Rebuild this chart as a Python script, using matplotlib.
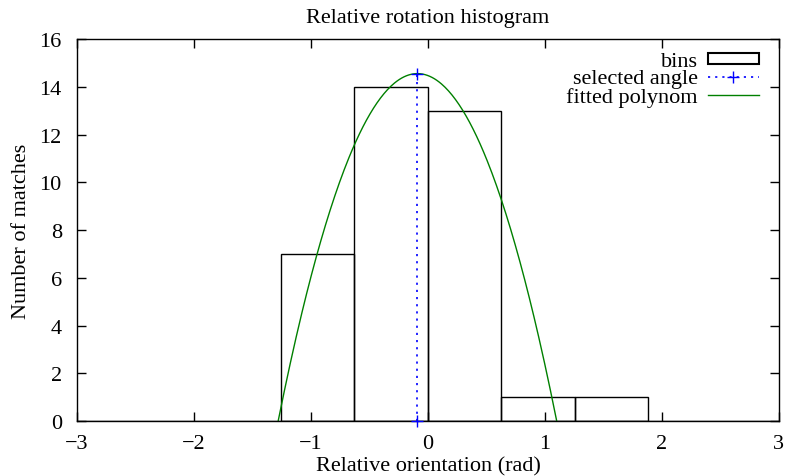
import numpy as np
import matplotlib
matplotlib.use('Agg')
import matplotlib.pyplot as plt
from matplotlib.patches import Rectangle
from matplotlib.lines import Line2D

# histogram of relative orientations, bins of pi/5
bin_edges = [-1.2566, -0.6283, 0.0, 0.6283, 1.2566, 1.8850]
bin_counts = [7, 14, 13, 1, 1]

# selected angle (peak of the fitted parabola)
sel_angle = -0.09
sel_value = 14.55

# fitted 2nd-order polynomial, highest power first
poly_coef = [-10.27, -1.85, 14.47]

xticks = [-3, -2, -1, 0, 1, 2, 3]
yticks = [0, 2, 4, 6, 8, 10, 12, 14, 16]

plt.rcParams['font.family'] = ['Liberation Serif', 'DejaVu Serif']

BLUE, GREEN = '#0000ff', '#008000'
DOTS = (0, (1.3, 3.0))

fig = plt.figure(figsize=(7.86, 4.77), dpi=100)
ax = fig.add_axes([0.098, 0.1153, 0.893, 0.8007])

# bins
lefts = np.array(bin_edges[:-1])
widths = np.diff(bin_edges)
ax.bar(lefts, bin_counts, width=widths, align='edge', fill=False,
       edgecolor='black', linewidth=1.0)
# empty bins across the remaining range sit on the x axis
ax.plot([-3, 3], [0, 0], color='black', linewidth=1.0)

# selected angle
ax.plot([sel_angle, sel_angle], [0, sel_value], color=BLUE,
        linestyle=DOTS, linewidth=1.2, marker='+',
        markersize=9, markeredgewidth=1.0, clip_on=False, zorder=4)

# fitted polynomial (clipped by the y range)
xs = np.linspace(-3, 3, 600)
ax.plot(xs, np.polyval(poly_coef, xs), color=GREEN, linewidth=1.0)

ax.set_xlim(-3, 3)
ax.set_ylim(0, 16)
ax.set_xticks(xticks)
ax.set_yticks(yticks)
ax.set_xticklabels([str(t).replace('-', '\u2212') for t in xticks])
ax.tick_params(direction='in', length=6.5, width=1.0, top=True, right=True,
               labelsize=16)
ax.tick_params(axis='x', pad=9)
ax.tick_params(axis='y', pad=11)
for sp in ax.spines.values():
    sp.set_linewidth(1.0)

ax.set_title('Relative rotation histogram', fontsize=16, pad=12)
ax.set_xlabel('Relative orientation (rad)', fontsize=16, labelpad=3)
ax.set_ylabel('Number of matches', fontsize=16, labelpad=6)

handles = [
    Rectangle((0, 0), 1, 1, fill=False, edgecolor='black', linewidth=1.5),
    Line2D([], [], color=BLUE, linestyle=DOTS, linewidth=1.2,
           marker='+', markersize=9),
    Line2D([], [], color=GREEN, linewidth=1.0),
]
labels = ['bins', 'selected angle', 'fitted polynom']
ax.legend(handles, labels, loc='upper right', bbox_to_anchor=(1.0, 1.018),
          frameon=False, markerfirst=False,
          fontsize=16, handlelength=2.3, handleheight=0.4, labelspacing=-0.08,
          handletextpad=0.45, borderaxespad=0.6, borderpad=0.3, numpoints=1)

fig.savefig('out.png', dpi=100)
